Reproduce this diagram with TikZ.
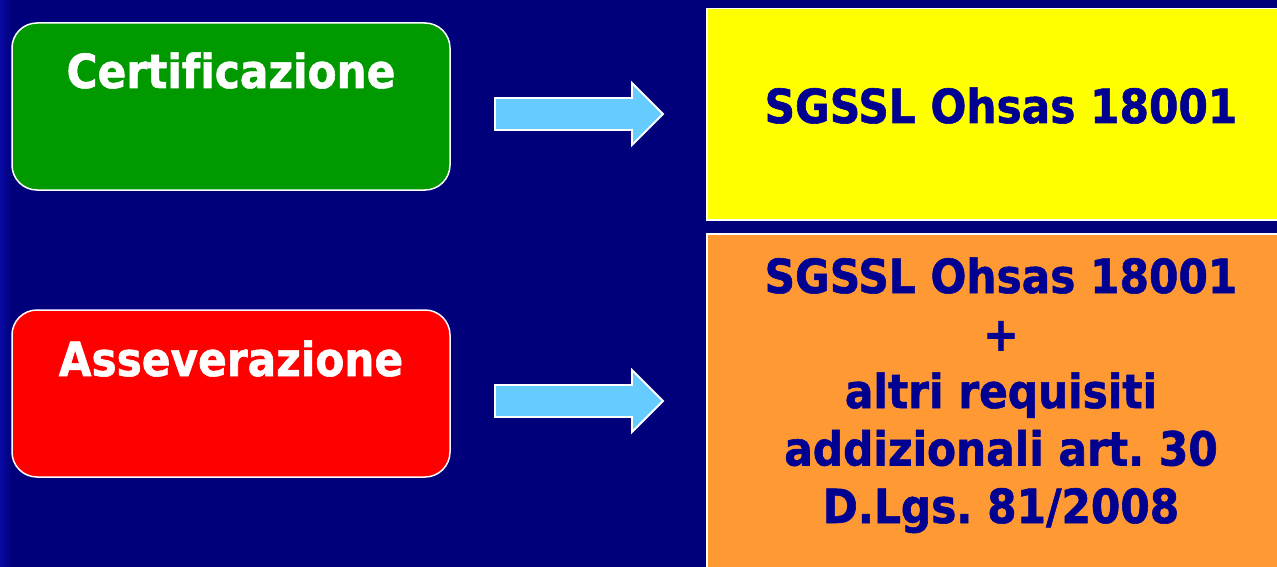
\documentclass[tikz,border=0pt]{standalone}
\usepackage{fontspec}
\setmainfont{DejaVu Sans}[FakeStretch=0.9, Ligatures=CommonOff, BoldFeatures={FakeBold=1.2}]
\frenchspacing
\definecolor{navybg}{RGB}{0,0,122}
\definecolor{navytxt}{RGB}{0,0,145}
\definecolor{stripblue}{RGB}{10,10,165}
\definecolor{boxgreen}{RGB}{0,153,0}
\definecolor{boxred}{RGB}{255,0,0}
\definecolor{boxyellow}{RGB}{255,255,0}
\definecolor{boxorange}{RGB}{255,153,51}
\definecolor{arrowblue}{RGB}{102,204,255}
\tikzset{
  leftbox/.style={draw=white, line width=1.5pt, rounded corners=25pt, minimum width=438pt, minimum height=167pt, inner sep=0pt},
  rightbox/.style={draw=white, line width=1.5pt, inner sep=0pt},
  whitelabel/.style={text=white, font=\bfseries\fontsize{47}{57.5}\selectfont, anchor=base, inner sep=0pt},
  navylabel/.style={text=navytxt, font=\bfseries\fontsize{47}{57.5}\selectfont, align=center, inner sep=0pt},
  blockarrow/.style={draw=white, line width=1.8pt, fill=arrowblue, line join=miter}
}
\begin{document}
\begin{tikzpicture}[x=1pt,y=-1pt]
\fill[navybg] (0,0) rectangle (1277,567);
\shade[left color=stripblue, right color=navybg] (0,0) rectangle (12,567);
\useasboundingbox (0,0) rectangle (1277,567);
% left boxes
\node[leftbox, fill=boxgreen] (certbox) at (231,106.5) {};
\node[whitelabel] (certtxt) at (231,88) {Certificazione};
\node[leftbox, fill=boxred] (assbox) at (231,393.5) {};
\node[whitelabel] (asstxt) at (231,376) {Asseverazione};
% right boxes
\node[rightbox, fill=boxyellow, minimum width=580pt, minimum height=211.5pt] (ohsbox) at (997,114.25) {};
\node[navylabel, anchor=base] (ohstxt) at (1001,123) {SGSSL Ohsas 18001};
\node[rightbox, fill=boxorange, minimum width=580pt, minimum height=340pt] (reqbox) at (997,404) {};
\node[navylabel, anchor=base] (reqtxt) at (1001,523) {SGSSL Ohsas 18001\\+\\altri requisiti\\addizionali art. 30\\D.Lgs. 81/2008};
% block arrows
\draw[blockarrow] (495,98) -- (632,98) -- (632,83) -- (663,114) -- (632,145) -- (632,130) -- (495,130) -- cycle;
\draw[blockarrow] (495,385) -- (632,385) -- (632,370) -- (663,401) -- (632,432) -- (632,417) -- (495,417) -- cycle;
\end{tikzpicture}
\end{document}
